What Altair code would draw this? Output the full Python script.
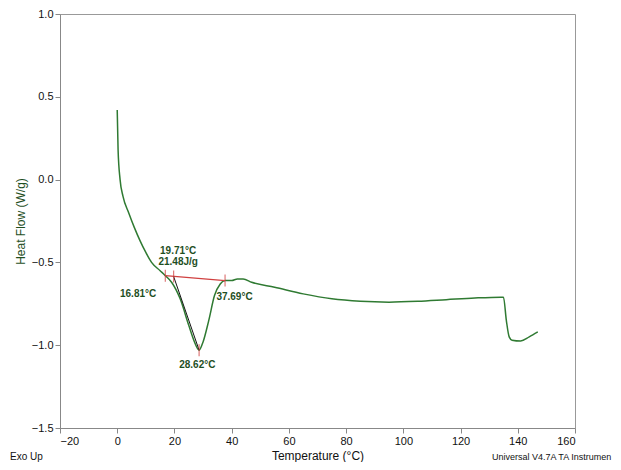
import pandas as pd
import altair as alt

# --- curve ---
temp = [0, 0.3, 1, 2, 4, 6, 8, 10, 12, 15, 16.81, 19, 22, 25, 27, 28.62, 30, 32, 34, 36, 37.69,
        40, 42, 44, 47, 55, 65, 75, 85, 95, 105, 115, 125, 134, 135, 136, 137, 138, 141, 144, 147]
heat = [0.42, 0.18, 0.0, -0.10, -0.20, -0.29, -0.37, -0.44, -0.50, -0.55, -0.58, -0.62, -0.72,
        -0.88, -0.98, -1.03, -0.98, -0.85, -0.70, -0.63, -0.61, -0.61, -0.60, -0.60, -0.62,
        -0.65, -0.69, -0.72, -0.735, -0.74, -0.735, -0.725, -0.715, -0.71, -0.71, -0.85, -0.95,
        -0.97, -0.975, -0.95, -0.92]

base_x = [16.81, 37.69]
base_y = [-0.58, -0.61]
tang_x = [19.71, 28.62]
tang_y = [-0.585, -1.03]
mark_x = [16.81, 19.71, 37.69, 28.62]
mark_y = [-0.58, -0.585, -0.61, -1.03]

lab_text = ["19.71°C", "21.48J/g", "16.81°C", "37.69°C", "28.62°C"]
lab_x = [21.3, 21.3, 7.3, 41.0, 28.0]
lab_y = [-0.43, -0.50, -0.69, -0.71, -1.12]

GREEN = "#2f7a32"
DARK = "#1f4f1f"

xs = alt.Scale(domain=[-20, 160], nice=False)
ys = alt.Scale(domain=[-1.5, 1.0], nice=False)

curve = alt.Chart(pd.DataFrame({"t": temp, "h": heat})).mark_line(
    color=GREEN, strokeWidth=1.5, interpolate="monotone"
).encode(
    x=alt.X("t:Q", scale=xs, title="Temperature (°C)",
            axis=alt.Axis(values=list(range(-20, 161, 20)), grid=False, domainColor="#888",
                          tickColor="#888", labelFontSize=11, titleFontSize=12,
                          labelColor="#111", titleColor="#111", titleFontWeight="normal")),
    y=alt.Y("h:Q", scale=ys, title="Heat Flow (W/g)",
            axis=alt.Axis(values=[-1.5, -1.0, -0.5, 0.0, 0.5, 1.0], format=".1f", grid=False,
                          domainColor="#888", tickColor="#888", labelFontSize=11,
                          titleFontSize=12, labelColor="#111", titleColor=DARK,
                          titleFontWeight="normal")),
)

baseline = alt.Chart(pd.DataFrame({"t": base_x, "h": base_y})).mark_line(
    color="#d04040", strokeWidth=1.3).encode(x=alt.X("t:Q", scale=xs), y=alt.Y("h:Q", scale=ys))
tangent = alt.Chart(pd.DataFrame({"t": tang_x, "h": tang_y})).mark_line(
    color="#111", strokeWidth=1).encode(x=alt.X("t:Q", scale=xs), y=alt.Y("h:Q", scale=ys))
ticks = alt.Chart(pd.DataFrame({"t": mark_x, "h": mark_y})).mark_tick(
    color="#d04040", thickness=1.2, size=12, orient="vertical").encode(
    x=alt.X("t:Q", scale=xs), y=alt.Y("h:Q", scale=ys))
labels = alt.Chart(pd.DataFrame({"t": lab_x, "h": lab_y, "s": lab_text})).mark_text(
    color=DARK, fontSize=10, font="Arial", fontWeight="bold").encode(
    x=alt.X("t:Q", scale=xs), y=alt.Y("h:Q", scale=ys), text="s:N")

footer = alt.Chart(pd.DataFrame({"s": ["Exo Up"]})).mark_text(
    fontSize=10, color="#111", align="left").encode(
    x=alt.value(-50), y=alt.value(443), text="s:N")
footer2 = alt.Chart(pd.DataFrame({"s": ["Universal V4.7A TA Instrumen"]})).mark_text(
    fontSize=9, color="#111", align="left").encode(
    x=alt.value(432), y=alt.value(443), text="s:N")

chart = alt.layer(curve, baseline, tangent, ticks, labels, footer, footer2).properties(
    width=515, height=414,
    autosize=alt.AutoSizeParams(type="none"),
    padding={"left": 52, "top": 6, "right": 38, "bottom": 34},
    background="white",
).configure_view(stroke="#999", strokeWidth=1).configure_axis(labelFont="Arial", titleFont="Arial")

chart.save("out.html", embed_options={"renderer": "svg", "actions": False})
